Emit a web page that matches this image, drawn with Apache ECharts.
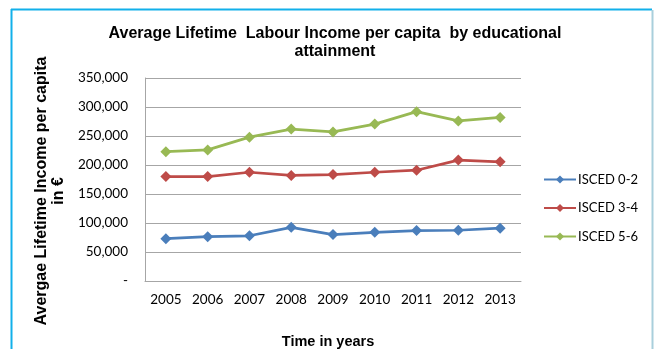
<!DOCTYPE html>
<html>
<head>
<meta charset="utf-8">
<script src="https://cdn.jsdelivr.net/npm/echarts@6/dist/echarts.min.js"></script>
<style>
  html, body { margin: 0; padding: 0; background: #fff; }
  #chart { width: 654px; height: 349px; }
</style>
</head>
<body>
<div id="chart"></div>
<script>
// Years on the category axis
const years = ['2005', '2006', '2007', '2008', '2009', '2010', '2011', '2012', '2013'];

// Average lifetime labour income per capita (€) by ISCED level
const isced02 = [73000, 76500, 78000, 92500, 80000, 84000, 87000, 87500, 91000];
const isced34 = [180000, 180000, 187500, 182000, 183500, 187500, 191000, 208500, 205500];
const isced56 = [223000, 226000, 248000, 262000, 257000, 270500, 292000, 276000, 282000];

const seriesNames = ['ISCED 0-2', 'ISCED 3-4', 'ISCED 5-6'];
const seriesColors = ['#4a7ebb', '#be4b48', '#98b954'];

// Value axis ticks
const yMin = 0;
const yMax = 350000;
const yStep = 50000;

const chart = echarts.init(document.getElementById('chart'), null, { renderer: 'canvas' });

function makeSeries(name, data, color) {
  return {
    name: name,
    type: 'line',
    data: data,
    symbol: 'diamond',
    symbolSize: 11,
    lineStyle: { color: color, width: 2.75 },
    itemStyle: { color: color },
    emphasis: { disabled: true },
    animation: false
  };
}

chart.setOption({
  animation: false,
  title: {
    text: 'Average Lifetime  Labour Income per capita  by educational\nattainment',
    left: 330,
    top: 20,
    textAlign: 'center',
    textStyle: {
      fontFamily: 'Liberation Sans',
      fontWeight: 'bold',
      fontSize: 16,
      color: '#000',
      lineHeight: 18
    }
  },
  legend: {
    orient: 'vertical',
    left: 543,
    top: 173,
    padding: 0,
    itemWidth: 32,
    itemHeight: 10,
    itemGap: 15.5,
    data: seriesNames,
    textStyle: { fontFamily: 'Lato', fontSize: 13, color: '#000', padding: [0, 0, 0, -3] }
  },
  grid: { left: 145, right: 133, top: 78, bottom: 68, outerBoundsMode: 'none', containLabel: false },
  xAxis: {
    type: 'category',
    data: years,
    boundaryGap: true,
    axisLine: { lineStyle: { color: '#a6a6a6', width: 1 } },
    axisTick: { show: false },
    axisLabel: { fontFamily: 'Lato', fontSize: 13.5, color: '#000', margin: 12 }
  },
  yAxis: {
    type: 'value',
    min: yMin,
    max: yMax,
    interval: yStep,
    axisLine: { show: true, lineStyle: { color: '#a6a6a6', width: 1 } },
    axisTick: { show: false },
    splitLine: { lineStyle: { color: '#a6a6a6', width: 1 } },
    axisLabel: {
      fontFamily: 'Lato',
      fontSize: 13.5,
      color: '#000',
      margin: 17,
      formatter: function (v) { return v === 0 ? '-' : v.toLocaleString('en-US'); }
    }
  },
  graphic: [
    {
      type: 'text',
      x: 50,
      y: 191,
      rotation: Math.PI / 2,
      style: {
        text: 'Avergae Lifetime Income per capita\nin €',
        fontFamily: 'Liberation Sans',
        fontWeight: 'bold',
        fontSize: 16,
        lineHeight: 17,
        fill: '#000',
        align: 'center',
        verticalAlign: 'middle'
      },
      silent: true
    },
    {
      type: 'text',
      x: 328,
      y: 342,
      style: {
        text: 'Time in years',
        fontFamily: 'Liberation Sans',
        fontWeight: 'bold',
        fontSize: 14.5,
        fill: '#000',
        align: 'center',
        verticalAlign: 'middle'
      },
      silent: true
    },
    // frame around the chart area
    { type: 'line', shape: { x1: 11.5, y1: 9, x2: 11.5, y2: 349 }, style: { stroke: '#12b0ea', lineWidth: 2 }, silent: true },
    { type: 'line', shape: { x1: 11, y1: 9.5, x2: 652, y2: 9.5 }, style: { stroke: '#12b0ea', lineWidth: 2 }, silent: true },
    { type: 'line', shape: { x1: 652.5, y1: 10, x2: 652.5, y2: 349 }, style: { stroke: '#a9cfdc', lineWidth: 2 }, silent: true }
  ],
  series: [
    makeSeries(seriesNames[0], isced02, seriesColors[0]),
    makeSeries(seriesNames[1], isced34, seriesColors[1]),
    makeSeries(seriesNames[2], isced56, seriesColors[2])
  ]
});
</script>
</body>
</html>
